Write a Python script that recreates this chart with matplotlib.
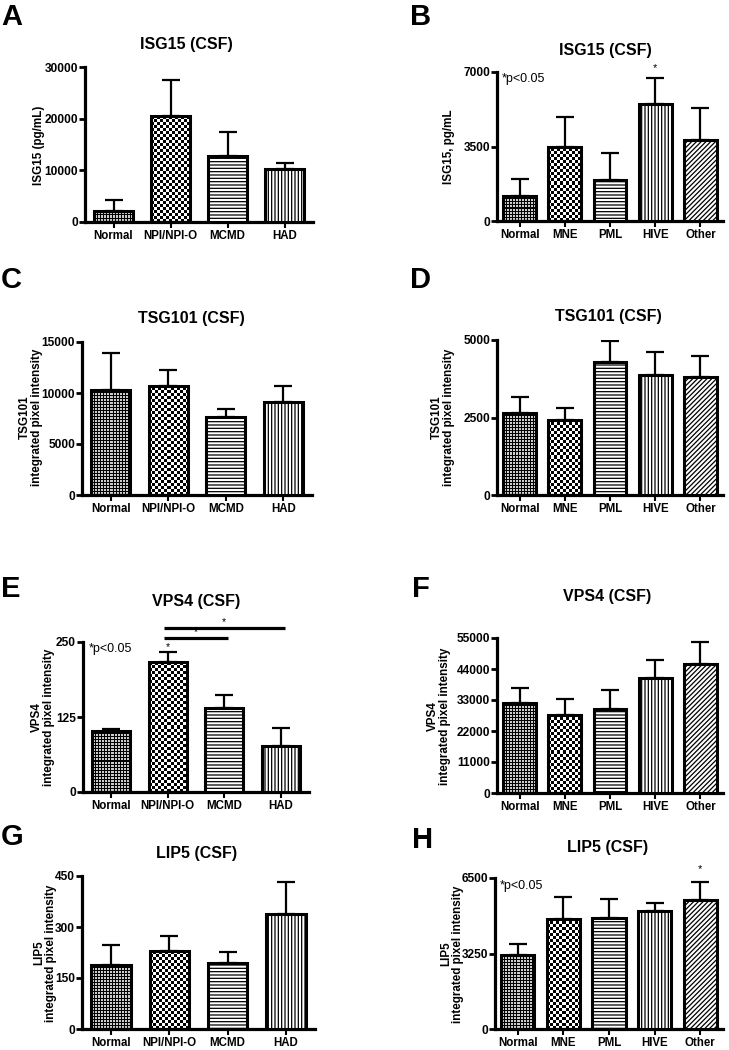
import numpy as np
import matplotlib
matplotlib.use("Agg")
from matplotlib import pyplot as plt

plt.rcParams['font.family'] = ['Liberation Sans', 'DejaVu Sans']
plt.rcParams['font.weight'] = 'bold'
plt.rcParams['hatch.linewidth'] = 0.9
plt.rcParams['hatch.color'] = 'black'

W, H = 729, 1050

# ---- data ----
groups_a = ["Normal", "NPI/NPI-O", "MCMD", "HAD"]
groups_b = ["Normal", "MNE", "PML", "HIVE", "Other"]

isg15_a = [2200, 20600, 12800, 10200]
isg15_a_err = [2100, 6900, 4700, 1200]
isg15_b = [1175, 3490, 1930, 5500, 3800]
isg15_b_err = [785, 1410, 1280, 1230, 1520]

tsg101_c = [10280, 10670, 7610, 9110]
tsg101_c_err = [3650, 1630, 820, 1560]
tsg101_d = [2660, 2420, 4280, 3870, 3820]
tsg101_d_err = [495, 380, 690, 730, 680]

vps4_e = [101.7, 216.7, 140.6, 77.2]
vps4_e_err = [3.3, 16.3, 21.4, 29.5]
vps4_f = [31800, 27800, 29800, 40700, 45900]
vps4_f_err = [5460, 5560, 6870, 6610, 7800]

lip5_g = [189, 229, 194, 339]
lip5_g_err = [58, 44, 33, 92]
lip5_h = [3180, 4730, 4780, 5090, 5550]
lip5_h_err = [490, 970, 800, 320, 770]

# significance marks
e_comparisons = [(1, 2, 257), (1, 3, 273)]
e_star_npi = 242
b_star = (3, 7170)
h_star = (4, 6880)

patterns = ["fine", "checker", "-----", "|||||", "///////"]


def pattern_image(kind, w, h):
    yy, xx = np.mgrid[0:h, 0:w]
    if kind == "fine":
        black = (yy % 3 == 0) | (xx % 3 == 0)
        return np.where(black, 0.0, 0.8)
    black = ((xx // 3) + (yy // 3)) % 2 == 0
    return np.where(black, 0.0, 1.0)


def panel(box, groups, vals, errs, yticks, width):
    left, top, right, bottom = box
    ax = fig.add_axes([left / W, 1 - bottom / H, (right - left) / W, (bottom - top) / H])
    n = len(groups)
    x = np.arange(n)
    px_x = (right - left) / n
    px_y = (bottom - top) / yticks[-1]

    ax.errorbar(x, vals, yerr=[np.zeros(n), errs], fmt='none', ecolor='black',
                elinewidth=1.6, capsize=6.2, capthick=1.6, zorder=1.5)
    for i in range(n):
        kind = patterns[i]
        if kind in ("fine", "checker"):
            b = ax.bar(x[i], vals[i], width, facecolor='none', edgecolor='black',
                       linewidth=2.2, zorder=3)[0]
            wp = int(round(width * px_x))
            hp = int(round(vals[i] * px_y))
            img = pattern_image(kind, wp, hp)
            im = ax.imshow(img, cmap='gray', vmin=0, vmax=1, origin='lower',
                           extent=(x[i] - width / 2, x[i] + width / 2, 0, vals[i]),
                           interpolation='nearest', aspect='auto', zorder=2)
            im.set_clip_path(b)
        else:
            ax.bar(x[i], vals[i], width, facecolor='white', edgecolor='black',
                   linewidth=2.2, hatch=kind, zorder=3)
    ax.set_xlim(-0.5, n - 0.5)
    ax.set_ylim(0, yticks[-1])

    for s in ['top', 'right']:
        ax.spines[s].set_visible(False)
    for s in ['left', 'bottom']:
        ax.spines[s].set_linewidth(2.3)
    ax.set_yticks(yticks)
    ax.set_yticklabels([str(t) for t in yticks], fontsize=8.6, fontweight='bold')
    ax.set_xticks(x)
    ax.set_xticklabels(groups, fontsize=8.3, fontweight='bold')
    ax.tick_params(axis='y', length=4, width=2, pad=1)
    ax.tick_params(axis='x', length=4, width=1.5, pad=2)
    return ax


def ftext(x, y, s, **kw):
    fig.text(x / W, 1 - y / H, s, **kw)


fig = plt.figure(figsize=(W / 100, H / 100), dpi=100)

ax_a = panel((85, 67, 313, 222), groups_a, isg15_a, isg15_a_err, [0, 10000, 20000, 30000], 0.68)
ax_b = panel((497, 72, 723, 221), groups_b, isg15_b, isg15_b_err, [0, 3500, 7000], 0.73)
ax_c = panel((82, 342, 312, 495), groups_a, tsg101_c, tsg101_c_err, [0, 5000, 10000, 15000], 0.68)
ax_d = panel((497, 340, 723, 495), groups_b, tsg101_d, tsg101_d_err, [0, 2500, 5000], 0.73)
ax_e = panel((83, 642, 309, 792), groups_a, vps4_e, vps4_e_err, [0, 125, 250], 0.68)
ax_f = panel((497, 638, 723, 793), groups_b, vps4_f, vps4_f_err, [0, 11000, 22000, 33000, 44000, 55000], 0.73)
ax_g = panel((82, 876, 315, 1029), groups_a, lip5_g, lip5_g_err, [0, 150, 300, 450], 0.68)
ax_h = panel((495, 878, 723, 1029), groups_b, lip5_h, lip5_h_err, [0, 3250, 6500], 0.73)

# panel letters
for letter, (lx, ly) in {"A": (1, 25), "B": (410, 25), "C": (1, 288), "D": (410, 288),
                         "E": (1, 597), "F": (412, 597), "G": (1, 845), "H": (412, 848)}.items():
    ftext(lx, ly, letter, fontsize=21, fontweight='bold', va='baseline', ha='left')

# titles
for t, (tx, ty) in [("ISG15 (CSF)", (186, 49)), ("ISG15 (CSF)", (605, 55)),
                    ("TSG101 (CSF)", (191, 323)), ("TSG101 (CSF)", (608, 321)),
                    ("VPS4 (CSF)", (196, 606)), ("VPS4 (CSF)", (607, 601)),
                    ("LIP5 (CSF)", (197, 858)), ("LIP5 (CSF)", (608, 852))]:
    ftext(tx, ty, t, fontsize=11.5, fontweight='bold', ha='center', va='baseline')

# y labels
for t, (tx, ty) in [("ISG15 (pg/mL)", (39, 145)), ("ISG15, pg/mL", (449, 147)),
                    ("TSG101\nintegrated pixel intensity", (31, 417)),
                    ("TSG101\nintegrated pixel intensity", (443, 417)),
                    ("VPS4\nintegrated pixel intensity", (43, 717)),
                    ("VPS4\nintegrated pixel intensity", (439, 716)),
                    ("LIP5\nintegrated pixel intensity", (45, 953)),
                    ("LIP5\nintegrated pixel intensity", (452, 954))]:
    ftext(tx, ty, t, fontsize=8.4, fontweight='bold', rotation=90, ha='center',
          va='center', multialignment='center', linespacing=1.0)

# p-value notes
for (px, py) in [(502, 82), (89, 652), (500, 889)]:
    ftext(px, py, "*p<0.05", fontsize=9, fontweight='normal', ha='left', va='baseline')

# stars
ax_b.text(b_star[0], b_star[1], "*", ha='center', va='center', fontsize=8,
          fontweight='normal', clip_on=False)
ax_h.text(h_star[0], h_star[1], "*", ha='center', va='center', fontsize=8,
          fontweight='normal', clip_on=False)
ax_e.text(1, e_star_npi, "*", ha='center', va='center', fontsize=7.5,
          fontweight='normal', clip_on=False)
for g1, g2, lev in e_comparisons:
    ax_e.plot([g1 - 0.07, g2 + 0.07], [lev, lev], color='black', lw=2.3,
              clip_on=False, solid_capstyle='butt')
    ax_e.text((g1 + g2) / 2, lev + 10, "*", ha='center', va='center', fontsize=7.5,
              fontweight='normal', clip_on=False)

fig.savefig("out.png", dpi=100)
